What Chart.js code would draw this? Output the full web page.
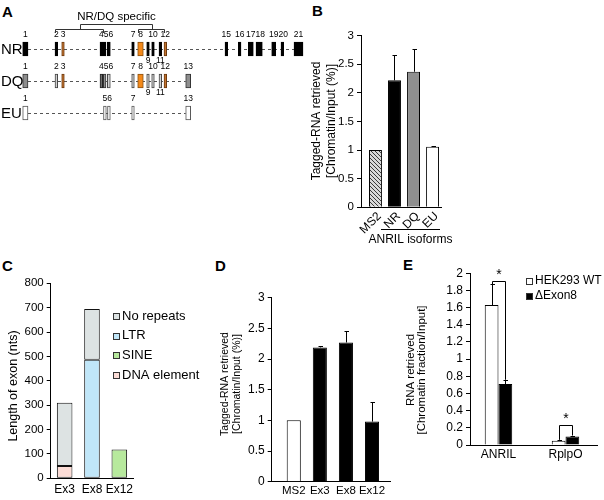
<!DOCTYPE html>
<html><head><meta charset="utf-8">
<script src="https://cdn.jsdelivr.net/npm/chart.js@4.4.1/dist/chart.umd.min.js"></script>
<style>
html,body{margin:0;padding:0;background:#fff;}
body{width:604px;height:500px;position:relative;overflow:hidden;font-family:"Liberation Sans",Arial,sans-serif;}
canvas{position:absolute;}
.lt{position:absolute;font-weight:bold;font-size:15px;line-height:15px;color:#000;}
</style></head><body>
<div class="lt" style="left:2px;top:4px">A</div>
<div class="lt" style="left:312px;top:3px">B</div>
<div class="lt" style="left:2px;top:258px">C</div>
<div class="lt" style="left:215px;top:258px">D</div>
<div class="lt" style="left:403px;top:257px">E</div>
<canvas id="cA" width="304" height="130" style="left:0;top:0"></canvas>
<canvas id="cB" width="160" height="250" style="left:300px;top:0"></canvas>
<canvas id="cC" width="200" height="250" style="left:0;top:250px"></canvas>
<canvas id="cD" width="200" height="250" style="left:200px;top:250px"></canvas>
<canvas id="cE" width="204" height="250" style="left:400px;top:250px"></canvas>
<script>
// ---------- DATA ----------
// Panel A: exon structure of ANRIL isoforms  [exon number, start, end, style]
const isoforms = ['NR', 'DQ', 'EU'];
const nrExons = [[1,22.7,28,'k'],[2,55,57.7,'k'],[3,61.7,64.3,'o'],[4,100,102.7,'k'],[5,103.3,106,'k'],[6,107.3,110.3,'k'],[7,131.7,134.3,'k'],[8,137.7,143.3,'O'],[9,146.7,149.3,'k'],[10,151.7,154.3,'k'],[11,159,161.7,'k'],[12,164,166.7,'o'],[15,225,227.7,'k'],[16,238.3,241,'k'],[17,248.3,253.3,'k'],[18,256,262.3,'k'],[19,271.7,275.7,'k'],[20,281,283.7,'k'],[21,294,303,'k']];
const dqExons = [[1,22.7,28,'g'],[2,55,57.7,'l'],[3,61.7,64.3,'o'],[4,100,102.7,'d'],[5,103.3,106,'g'],[6,107.3,110.3,'l'],[7,131.7,134.3,'l'],[8,137.7,143.3,'O'],[9,146.7,149.3,'l'],[10,151.7,154.3,'l'],[11,159,161.7,'l'],[12,164,166.7,'o'],[13,185.7,190.7,'g']];
const euExons = [[1,22.7,28,'w'],[5,103.5,106.3,'w'],[6,107.5,110.3,'w'],[7,131.7,134.3,'w'],[13,185.7,190.7,'w']];
const labelsBelow = [9, 11];
const specificGroups = [[2, 5], [8, 12]];
const specificLabel = 'NR/DQ specific';

// Panel B
const bCats = ['MS2', 'NR', 'DQ', 'EU'];
const bValues = [1.0, 2.22, 2.37, 1.06];
const bErrTop = [null, 2.66, 2.77, 1.08];
const bYTicks = [0, 0.5, 1, 1.5, 2, 2.5, 3];
const bGroupLabel = 'ANRIL isoforms';

// Panel C
const cCats = ['Ex3', 'Ex8', 'Ex12'];
const cDNA = [50, null, null];
const cSINE = [null, null, 118];
const cLTR = [null, 486, null];
const cNoRep = [260, 209, null];
const cYTicks = [0, 100, 200, 300, 400, 500, 600, 700, 800];

// Panel D
const dCats = ['MS2', 'Ex3', 'Ex8', 'Ex12'];
const dValues = [1.0, 2.19, 2.27, 0.98];
const dErrTop = [null, 2.22, 2.46, 1.30];
const dYTicks = [0, 0.5, 1, 1.5, 2, 2.5, 3];

// Panel E
const eCats = ['ANRIL', 'RplpO'];
const eWT = [1.63, 0.05];
const eWTErr = [1.87, 0.06];
const eDel = [0.71, 0.10];
const eDelErr = [0.76, 0.11];
const eSigLevel = [1.91, 0.23];
const eYTicks = [0, 0.2, 0.4, 0.6, 0.8, 1, 1.2, 1.4, 1.6, 1.8, 2];

// ---------- STYLE / HELPERS ----------
const FONT = '"Liberation Sans", Arial, sans-serif';
Chart.defaults.font.family = FONT;
Chart.defaults.color = '#000';
Chart.defaults.animation = false;

function font(size, weight) { return (weight ? weight + ' ' : '') + size + 'px ' + FONT; }

function yAxis(ticks, fontSize, width) {
  return {
    type: 'linear', min: ticks[0], max: ticks[ticks.length - 1],
    afterBuildTicks: s => { s.ticks = ticks.map(v => ({ value: v })); },
    ticks: { autoSkip: false, font: { size: fontSize }, color: '#000', padding: 3, callback: v => String(+(+v).toFixed(3)) },
    grid: { display: true, drawOnChartArea: false, drawTicks: true, tickLength: 4, color: '#000', lineWidth: 1 },
    border: { display: true, color: '#000', width: 1 },
    afterFit: s => { s.width = width; }
  };
}
function xLinear(cats, min, max, fontSize, height, pad, rot, labelOffset) {
  return {
    type: 'linear', min, max, offset: false,
    afterBuildTicks: s => { s.ticks = cats.map((_, i) => ({ value: i })); },
    ticks: { autoSkip: false, minRotation: rot || 0, maxRotation: rot || 0, font: { size: fontSize }, color: '#000', padding: pad,
      labelOffset: labelOffset || 0,
      callback: v => (cats[v] !== undefined ? cats[v] : '') },
    grid: { display: false, drawTicks: false, tickLength: 0, offset: false },
    border: { display: true, color: '#000', width: 1 },
    afterFit: s => { s.height = height; }
  };
}

const ytitlePlugin = {
  id: 'ytitle',
  afterDraw(chart, a, o) {
    if (!o || !o.lines) return;
    const ctx = chart.ctx;
    ctx.save();
    ctx.translate(o.x, o.cy);
    ctx.rotate(-Math.PI / 2);
    ctx.textAlign = 'center'; ctx.textBaseline = 'middle';
    ctx.fillStyle = '#000'; ctx.font = font(o.size);
    o.lines.forEach((l, i) => ctx.fillText(l, 0, i * o.dy));
    ctx.restore();
  }
};
const errPlugin = {
  id: 'errbars',
  afterDatasetsDraw(chart, a, o) {
    if (!o || !o.tops) return;
    const ctx = chart.ctx, ys = chart.scales.y;
    ctx.save(); ctx.strokeStyle = '#000'; ctx.lineWidth = 1;
    o.tops.forEach((tops, di) => {
      chart.getDatasetMeta(di).data.forEach((el, j) => {
        const t = tops[j]; if (t == null) return;
        const yt = Math.round(ys.getPixelForValue(t)) + 0.5;
        const x = Math.round(el.x) + 0.5;
        ctx.beginPath();
        ctx.moveTo(x, el.y); ctx.lineTo(x, yt);
        ctx.moveTo(x - 2, yt); ctx.lineTo(x + 2.5, yt);
        ctx.stroke();
      });
    });
    ctx.restore();
  }
};
const boxLegendPlugin = {
  id: 'boxlegend',
  afterDraw(chart, a, o) {
    if (!o || !o.order) return;
    const ctx = chart.ctx;
    ctx.save(); ctx.font = font(o.size); ctx.textBaseline = 'middle'; ctx.textAlign = 'left';
    o.order.forEach((di, i) => {
      const ds = chart.data.datasets[di];
      const y = o.y + i * o.dy;
      const top = Math.round(y - 3);
      ctx.fillStyle = ds.backgroundColor; ctx.fillRect(o.x, top, 6, 6);
      ctx.strokeStyle = '#333'; ctx.lineWidth = 1; ctx.strokeRect(o.x + 0.5, top + 0.5, 6, 6);
      ctx.fillStyle = '#000'; ctx.fillText(ds.label, o.x + 9, y);
    });
    ctx.restore();
  }
};

// ---------- PANEL A ----------
const exonStyle = {
  k: ['#000000', '#000000'], o: ['#c2732f', '#6b3a10'], O: ['#f3891a', '#8a5010'],
  g: ['#8e8e8e', '#333333'], d: ['#6e6e6e', '#222222'], l: ['#d0d0d0', '#444444'], w: ['#ffffff', '#555555']
};
const rows = [nrExons, dqExons, euExons];
const aDatasets = rows.map((ex, ri) => ({
  data: ex.map(e => ({ x: [e[1], e[2]], y: isoforms[ri], num: e[0], st: e[3] })),
  backgroundColor: c => exonStyle[c.raw.st][0],
  borderColor: c => exonStyle[c.raw.st][1],
  borderWidth: 1, borderSkipped: false, barThickness: 14, grouped: false
}));
const exonPlugin = {
  id: 'exons',
  beforeDatasetsDraw(chart) {
    const ctx = chart.ctx, xs = chart.scales.x, ys = chart.scales.y;
    ctx.save(); ctx.strokeStyle = '#555'; ctx.lineWidth = 1; ctx.setLineDash([3, 3]);
    rows.forEach((ex, ri) => {
      const y = Math.round(ys.getPixelForValue(ri)) + 0.5;
      ctx.beginPath();
      ctx.moveTo(xs.getPixelForValue(ex[0][2]), y);
      ctx.lineTo(xs.getPixelForValue(ex[ex.length - 1][1]), y);
      ctx.stroke();
    });
    ctx.restore();
  },
  afterDatasetsDraw(chart) {
    const ctx = chart.ctx, xs = chart.scales.x, ys = chart.scales.y;
    ctx.save(); ctx.fillStyle = '#000';
    // row names
    ctx.font = font(15); ctx.textAlign = 'left'; ctx.textBaseline = 'middle';
    isoforms.forEach((n, ri) => ctx.fillText(n, 1, ys.getPixelForValue(ri) + 1));
    // exon numbers
    ctx.font = font(8.5);
    rows.forEach((ex, ri) => {
      const yc = ys.getPixelForValue(ri);
      let lastRightUp = -1e9, lastRightDn = -1e9;
      ex.forEach(e => {
        const below = labelsBelow.includes(e[0]);
        const txt = String(e[0]);
        const w = ctx.measureText(txt).width;
        const cx = (xs.getPixelForValue(e[1]) + xs.getPixelForValue(e[2])) / 2;
        let left = cx - w / 2;
        if (below) { if (left < lastRightDn) left = lastRightDn; lastRightDn = left + w; }
        else { if (left < lastRightUp) left = lastRightUp; lastRightUp = left + w; }
        ctx.textAlign = 'left';
        ctx.fillText(txt, left, below ? yc + 11.5 : yc - 14.5);
      });
    });
    // NR/DQ specific bracket
    const nrBy = n => nrExons.find(e => e[0] === n);
    const yTop = 24.5, ySub = 29.5, yEnd = 33;
    ctx.strokeStyle = '#333'; ctx.lineWidth = 1;
    const mids = specificGroups.map(([a, b]) => {
      const x1 = Math.round(xs.getPixelForValue(nrBy(a)[1])) + 0.5;
      const x2 = Math.round(xs.getPixelForValue(nrBy(b)[2]) - 3) + 0.5;
      ctx.beginPath();
      ctx.moveTo(x1, yEnd); ctx.lineTo(x1, ySub); ctx.lineTo(x2, ySub); ctx.lineTo(x2, yEnd);
      ctx.stroke();
      return Math.round((x1 + x2) / 2) + 0.5;
    });
    ctx.beginPath();
    ctx.moveTo(mids[0], ySub); ctx.lineTo(mids[0], yTop); ctx.lineTo(mids[1], yTop); ctx.lineTo(mids[1], ySub);
    ctx.stroke();
    ctx.font = font(11.5); ctx.textAlign = 'center'; ctx.textBaseline = 'middle';
    ctx.fillText(specificLabel, (mids[0] + mids[1]) / 2, 17);
    ctx.restore();
  }
};
new Chart(document.getElementById('cA'), {
  type: 'bar',
  data: { labels: isoforms, datasets: aDatasets },
  options: {
    responsive: false, devicePixelRatio: 1, indexAxis: 'y', events: [],
    layout: { padding: { top: 33, bottom: 1, left: 0, right: 0 } },
    scales: {
      x: { type: 'linear', min: 0, max: 304, display: false },
      y: { type: 'category', display: false }
    },
    plugins: { legend: { display: false }, tooltip: { enabled: false } }
  },
  plugins: [exonPlugin]
});

// ---------- PANEL B ----------
function hatch() {
  const c = document.createElement('canvas'); c.width = 4; c.height = 4;
  const g = c.getContext('2d');
  g.fillStyle = '#d8d8d8'; g.fillRect(0, 0, 4, 4);
  g.strokeStyle = '#3a3a3a'; g.lineWidth = 1;
  g.beginPath(); g.moveTo(-1, -1); g.lineTo(5, 5); g.stroke();
  return g.createPattern(c, 'repeat');
}
const bFill = [hatch(), '#000000', '#8f8f8f', '#ffffff'];
const groupPlugin = {
  id: 'grouplabel',
  afterDraw(chart) {
    const ctx = chart.ctx, xs = chart.scales.x, ca = chart.chartArea;
    const x1 = Math.round(xs.getPixelForValue(0.3)), x2 = Math.round(xs.getPixelForValue(3.4));
    const y = Math.round(ca.bottom + 22) + 0.5;
    ctx.save(); ctx.strokeStyle = '#000'; ctx.lineWidth = 1;
    ctx.beginPath(); ctx.moveTo(x1, y); ctx.lineTo(x2, y); ctx.stroke();
    ctx.fillStyle = '#000'; ctx.font = font(12); ctx.textAlign = 'center'; ctx.textBaseline = 'middle';
    ctx.fillText(bGroupLabel, (x1 + x2) / 2, y + 10);
    ctx.restore();
  }
};
new Chart(document.getElementById('cB'), {
  type: 'bar',
  data: { datasets: [{ data: bValues.map((v, i) => ({ x: i, y: v })), backgroundColor: bFill, borderColor: '#000', borderWidth: 1,
    categoryPercentage: 1, barPercentage: 0.68 }] },
  options: {
    responsive: false, devicePixelRatio: 1, events: [],
    layout: { padding: { top: 35.7, right: 18.3, left: 0, bottom: 0 } },
    scales: { x: xLinear(bCats, -0.76, 3.48, 12, 42.7, 2, 45, 4), y: yAxis(bYTicks, 11.5, 61) },
    plugins: { legend: { display: false }, tooltip: { enabled: false },
      errbars: { tops: [bErrTop] },
      ytitle: { lines: ['Tagged-RNA retrieved', '[Chromatin/Input (%)]'], x: 17, dy: 15, cy: 121, size: 12 } }
  },
  plugins: [errPlugin, ytitlePlugin, groupPlugin]
});

// ---------- PANEL C ----------
const cStack = (label, data, color) => ({ label, data: data.map((v, i) => ({ x: i, y: v })), backgroundColor: color,
  borderColor: '#111', borderWidth: 1, borderSkipped: false, categoryPercentage: 1, barPercentage: 0.57 });
new Chart(document.getElementById('cC'), {
  type: 'bar',
  data: { datasets: [
    cStack('DNA element', cDNA, '#fbdcd6'),
    cStack('SINE', cSINE, '#b7e99d'),
    cStack('LTR', cLTR, '#c0e6f8'),
    cStack('No repeats', cNoRep, '#dde3e3')
  ] },
  options: {
    responsive: false, devicePixelRatio: 1, events: [],
    layout: { padding: { top: 33.3, right: 67, left: 0, bottom: 0 } },
    scales: { x: Object.assign(xLinear(cCats, -0.51, 2.5, 12, 21.7, 4), { stacked: true }),
              y: Object.assign(yAxis(cYTicks, 11.5, 50.7), { stacked: true }) },
    plugins: { legend: { display: false }, tooltip: { enabled: false },
      boxlegend: { order: [3, 2, 1, 0], x: 113, y: 66, dy: 19.7, size: 13 },
      ytitle: { lines: ['Length of exon (nts)'], x: 13.3, dy: 0, cy: 136, size: 12.5 } }
  },
  plugins: [ytitlePlugin, boxLegendPlugin]
});

// ---------- PANEL D ----------
new Chart(document.getElementById('cD'), {
  type: 'bar',
  data: { datasets: [{ data: dValues.map((v, i) => ({ x: i, y: v })), backgroundColor: ['#ffffff', '#000000', '#000000', '#000000'],
    borderColor: '#000', borderWidth: 1, categoryPercentage: 1, barPercentage: 0.54 }] },
  options: {
    responsive: false, devicePixelRatio: 1, events: [],
    layout: { padding: { top: 47.7, right: 10, left: 0, bottom: 0 } },
    scales: { x: xLinear(dCats, -0.846, 3.69, 11.5, 18.3, 2), y: yAxis(dYTicks, 12, 71.7) },
    plugins: { legend: { display: false }, tooltip: { enabled: false },
      errbars: { tops: [dErrTop] },
      ytitle: { lines: ['Tagged-RNA retrieved', '[Chromatin/Input (%)]'], x: 25, dy: 11.7, cy: 134, size: 10.5 } }
  },
  plugins: [errPlugin, ytitlePlugin]
});

// ---------- PANEL E ----------
const sigPlugin = {
  id: 'sig',
  afterDatasetsDraw(chart) {
    const ctx = chart.ctx, ys = chart.scales.y;
    const m0 = chart.getDatasetMeta(0).data, m1 = chart.getDatasetMeta(1).data;
    ctx.save(); ctx.strokeStyle = '#000'; ctx.lineWidth = 1; ctx.fillStyle = '#000';
    ctx.font = font(14); ctx.textAlign = 'center'; ctx.textBaseline = 'middle';
    eCats.forEach((c, j) => {
      const xa = Math.round(m0[j].x) + 0.5, xb = Math.round(m1[j].x) + 0.5;
      const ya = ys.getPixelForValue(eWTErr[j]), yb = ys.getPixelForValue(eDelErr[j]);
      const yl = Math.round(ys.getPixelForValue(eSigLevel[j])) + 0.5;
      ctx.beginPath();
      ctx.moveTo(xa, ya); ctx.lineTo(xa, yl); ctx.lineTo(xb, yl); ctx.lineTo(xb, yb);
      ctx.stroke();
      ctx.fillText('*', (xa + xb) / 2, yl - 6);
    });
    ctx.restore();
  }
};
new Chart(document.getElementById('cE'), {
  type: 'bar',
  data: { datasets: [
    { label: 'HEK293 WT', data: eWT.map((v, i) => ({ x: i, y: v })), backgroundColor: '#ffffff', borderColor: '#000', borderWidth: 1,
      categoryPercentage: 0.41, barPercentage: 1 },
    { label: '\u0394Exon8', data: eDel.map((v, i) => ({ x: i, y: v })), backgroundColor: '#000000', borderColor: '#000', borderWidth: 1,
      categoryPercentage: 0.41, barPercentage: 1 }
  ] },
  options: {
    responsive: false, devicePixelRatio: 1, events: [],
    layout: { padding: { top: 23.3, right: 7, left: 0, bottom: 0 } },
    scales: { x: xLinear(eCats, -0.425, 1.47, 12, 55, 2), y: yAxis(eYTicks, 12, 70) },
    plugins: { legend: { display: false }, tooltip: { enabled: false },
      errbars: { tops: [eWTErr, eDelErr] },
      boxlegend: { order: [0, 1], x: 126, y: 30.5, dy: 15, size: 12 },
      ytitle: { lines: ['RNA retrieved', '[Chromatin fraction/Input]'], x: 10.8, dy: 11, cy: 120, size: 11.5 } }
  },
  plugins: [errPlugin, ytitlePlugin, boxLegendPlugin, sigPlugin]
});
</script>
</body></html>
